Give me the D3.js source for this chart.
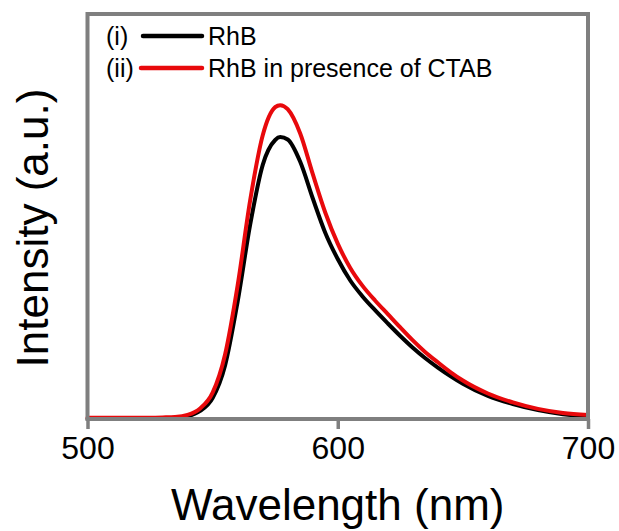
<!DOCTYPE html>
<html>
<head>
<meta charset="utf-8">
<script src="https://cdn.jsdelivr.net/npm/d3@7"></script>
<style>
  html, body { margin: 0; padding: 0; background: #fff; }
  svg { display: block; font-family: Arial, "Liberation Sans", sans-serif; }
</style>
</head>
<body>
<svg id="chart" width="619" height="531"></svg>
<script>
// ---- data ----
const wavelengths = [500, 510, 520, 530, 535, 540, 545, 550, 555, 560, 565, 570, 575, 577, 580, 585, 590, 595, 600, 605, 610, 615, 620, 625, 630, 635, 640, 645, 650, 660, 670, 680, 690, 700];
const rhb =         [0, 0, 0.1, 0.2, 0.3, 0.7, 2.0, 5.2, 13.3, 29, 48, 62.7, 68.9, 69.6, 69, 63.5, 54.5, 46, 39.5, 34.2, 30.2, 26.8, 23.6, 20.5, 17.6, 15, 12.7, 10.6, 8.7, 5.7, 3.7, 2.2, 1.2, 0.7];
const rhbCtab =     [0.3, 0.3, 0.3, 0.4, 0.5, 1.0, 2.6, 6.5, 16, 33, 54, 70, 77, 77.5, 76.5, 70.5, 60.5, 51, 43.3, 37.3, 32.8, 29.2, 25.9, 22.6, 19.4, 16.5, 14, 11.6, 9.5, 6.3, 4.1, 2.5, 1.5, 1.0];
const xTicks = [500, 600, 700];
const seriesNames = ["RhB", "RhB in presence of CTAB"];
const seriesTags = ["(i)", "(ii)"];
const seriesColors = ["#000000", "#e8090c"];

// ---- layout ----
const svg = d3.select("#chart");
const mLeft = 87.5, mRight = 588, mTop = 14, mBottom = 419;
const x = d3.scaleLinear().domain([500, 700]).range([mLeft, mRight]);
const y = d3.scaleLinear().domain([0, 100]).range([mBottom, mTop]);
const frameColor = "#7f7f7f";

// axis ticks (outward, bottom)
const xAxis = d3.axisBottom(x).tickValues(xTicks).tickSize(10).tickPadding(7).tickFormat(d3.format("d"));
const gx = svg.append("g").attr("transform", `translate(0,${mBottom})`).call(xAxis);
gx.select(".domain").remove();
gx.selectAll(".tick line").attr("stroke", frameColor).attr("stroke-width", 3.5);
gx.selectAll(".tick text").attr("font-size", 32).attr("fill", "#000")
  .attr("font-family", "Arial, 'Liberation Sans', sans-serif");

// curves
const series = [rhb, rhbCtab];
const line = d3.line().x((d, i) => x(wavelengths[i])).y(d => y(d)).curve(d3.curveMonotoneX);
series.forEach((s, k) => {
  svg.append("path").datum(s).attr("d", line)
    .attr("fill", "none").attr("stroke", seriesColors[k]).attr("stroke-width", 4)
    .attr("stroke-linejoin", "round").attr("stroke-linecap", "round");
});

// frame
svg.append("rect").attr("x", mLeft).attr("y", mTop).attr("width", mRight - mLeft).attr("height", mBottom - mTop)
  .attr("fill", "none").attr("stroke", frameColor).attr("stroke-width", 4);

// legend
const legY = [36, 68];
series.forEach((s, k) => {
  svg.append("text").attr("x", 106).attr("y", legY[k] + 9).attr("font-size", 25).text(seriesTags[k]);
  svg.append("line").attr("x1", k === 0 ? 143 : 141).attr("x2", 202).attr("y1", legY[k]).attr("y2", legY[k])
    .attr("stroke", seriesColors[k]).attr("stroke-width", 4.5).attr("stroke-linecap", "round");
  svg.append("text").attr("x", 208).attr("y", legY[k] + 9).attr("font-size", 25).text(seriesNames[k]);
});

// axis titles
svg.append("text").attr("x", (mLeft + mRight) / 2).attr("y", 520).attr("text-anchor", "middle")
  .attr("font-size", 44).text("Wavelength (nm)");
svg.append("text").attr("transform", `translate(48,228) rotate(-90)`)
  .attr("text-anchor", "middle").attr("font-size", 44).text("Intensity (a.u.)");
</script>
</body>
</html>
